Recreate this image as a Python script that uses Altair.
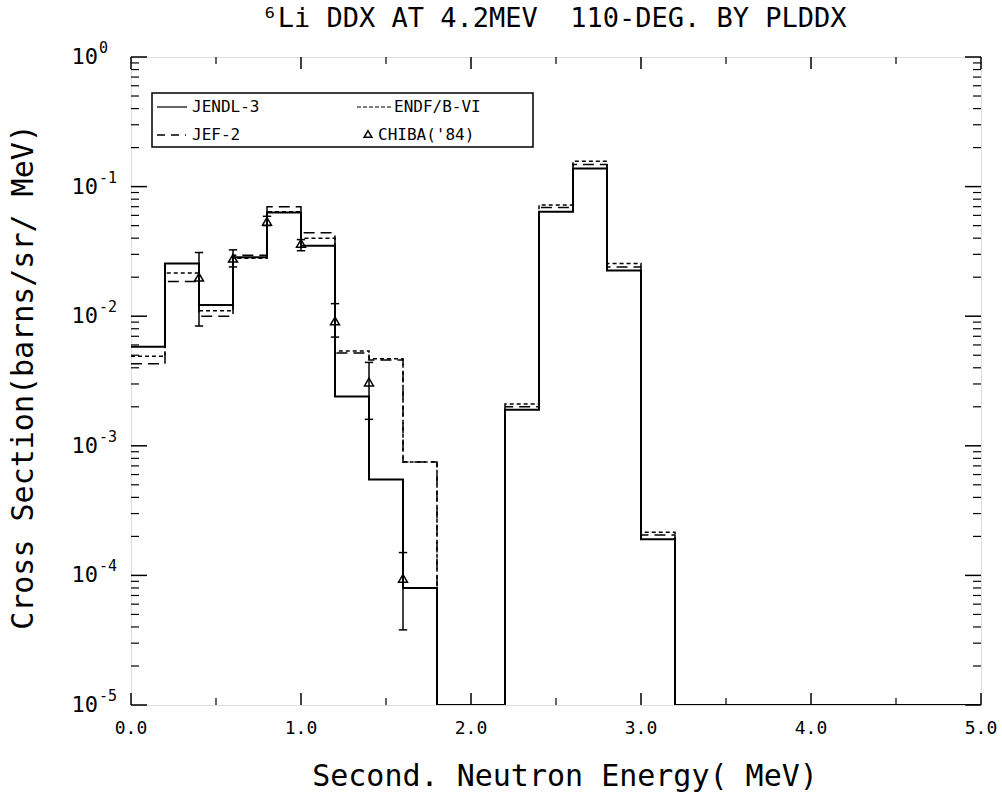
import altair as alt
import pandas as pd

# ---------------- data ----------------
edges = [0.0, 0.2, 0.4, 0.6, 0.8, 1.0, 1.2, 1.4, 1.6, 1.8, 2.0, 2.2, 2.4,
         2.6, 2.8, 3.0, 3.2, 3.4, 3.6, 3.8, 4.0, 4.2, 4.4, 4.6, 4.8, 5.0]

jendl3 = [5.8e-3, 2.55e-2, 1.22e-2, 2.85e-2, 6.3e-2, 3.5e-2, 2.4e-3, 5.5e-4,
          8.0e-5, 0, 0, 1.9e-3, 6.4e-2, 1.38e-1, 2.25e-2, 1.9e-4,
          0, 0, 0, 0, 0, 0, 0, 0, 0]
endfb6 = [4.9e-3, 2.15e-2, 1.1e-2, 2.8e-2, 6.4e-2, 4.0e-2, 5.4e-3, 4.7e-3,
          7.5e-4, 0, 0, 2.1e-3, 7.2e-2, 1.57e-1, 2.55e-2, 2.15e-4,
          0, 0, 0, 0, 0, 0, 0, 0, 0]
jef2 = [4.3e-3, 1.85e-2, 1.0e-2, 2.95e-2, 7.0e-2, 4.4e-2, 5.2e-3, 4.6e-3,
        7.5e-4, 0, 0, 2.0e-3, 6.9e-2, 1.48e-1, 2.4e-2, 2.05e-4,
        0, 0, 0, 0, 0, 0, 0, 0, 0]

chiba_e = [0.4, 0.6, 0.8, 1.0, 1.2, 1.4, 1.6]
chiba_v = [2.0e-2, 2.8e-2, 5.4e-2, 3.65e-2, 9.2e-3, 3.1e-3, 9.5e-5]
chiba_lo = [8.4e-3, 2.4e-2, 5.0e-2, 3.2e-2, 6.9e-3, 1.6e-3, 3.8e-5]
chiba_hi = [3.1e-2, 3.25e-2, 5.9e-2, 3.9e-2, 1.25e-2, 4.4e-3, 1.5e-4]

x_major = [0, 1, 2, 3, 4, 5]
x_labels = ["0.0", "1.0", "2.0", "3.0", "4.0", "5.0"]
x_minor = [0.5, 1.5, 2.5, 3.5, 4.5]
y_decades = [1e0, 1e-1, 1e-2, 1e-3, 1e-4, 1e-5]
y_exponents = ["0", "-1", "-2", "-3", "-4", "-5"]
y_minor = [m * d for d in [1e-1, 1e-2, 1e-3, 1e-4, 1e-5] for m in range(2, 10)]

title_text = "\u2076Li DDX AT 4.2MEV\u00a0\u00a0110-DEG. BY PLDDX"
x_title = "Second. Neutron Energy( MeV)"
y_title = "Cross Section(barns/sr/ MeV)"
legend_names = ["JENDL-3", "JEF-2", "ENDF/B-VI", "CHIBA('84)"]

# ---------------- layout ----------------
W, H = 850, 648
FLOOR = 1e-5
FONT = "DejaVu Sans Mono"

xs = alt.Scale(domain=[0, 5], nice=False, zero=False)
ys = alt.Scale(type="log", domain=[1e-5, 1], nice=False)


def step_frame(vals):
    ys_ = [max(v, FLOOR) for v in vals] + [max(vals[-1], FLOOR)]
    return pd.DataFrame({"x": edges, "y": ys_})


def line_layer(vals, dash, width):
    mk = dict(interpolate="step-after", color="black", strokeWidth=width, clip=True)
    if dash:
        mk["strokeDash"] = dash
    return alt.Chart(step_frame(vals)).mark_line(**mk).encode(
        x=alt.X("x:Q", scale=xs, axis=None),
        y=alt.Y("y:Q", scale=ys, axis=None),
    )


l_jendl = line_layer(jendl3, None, 2)
l_endf = line_layer(endfb6, [4, 3], 1.5)
l_jef = line_layer(jef2, [11, 6], 1.5)

chiba = pd.DataFrame({"e": chiba_e, "v": chiba_v, "lo": chiba_lo, "hi": chiba_hi})
err = alt.Chart(chiba).mark_rule(color="black", strokeWidth=1.5).encode(
    x=alt.X("e:Q", scale=xs, axis=None),
    y=alt.Y("lo:Q", scale=ys, axis=None), y2="hi:Q")
cap_lo = alt.Chart(chiba).mark_point(shape="M-1,0L1,0", size=70, color="black",
                                     strokeWidth=1.5, opacity=1).encode(
    x=alt.X("e:Q", scale=xs, axis=None), y=alt.Y("lo:Q", scale=ys, axis=None))
cap_hi = alt.Chart(chiba).mark_point(shape="M-1,0L1,0", size=70, color="black",
                                     strokeWidth=1.5, opacity=1).encode(
    x=alt.X("e:Q", scale=xs, axis=None), y=alt.Y("hi:Q", scale=ys, axis=None))
tri = alt.Chart(chiba).mark_point(shape="triangle-up", size=80, color="black",
                                  filled=False, strokeWidth=1.5, opacity=1).encode(
    x=alt.X("e:Q", scale=xs, axis=None), y=alt.Y("v:Q", scale=ys, axis=None))

# ---------------- inward ticks ----------------
ydec = pd.DataFrame({"v": y_decades, "ex": y_exponents})
ymin = pd.DataFrame({"v": y_minor})
xmaj = pd.DataFrame({"v": x_major, "lab": x_labels})
xmin = pd.DataFrame({"v": x_minor})


def yticks(df, x0, x1, w):
    return alt.Chart(df).mark_rule(color="black", strokeWidth=w).encode(
        y=alt.Y("v:Q", scale=ys, axis=None), x=alt.value(x0), x2=alt.value(x1))


def xticks(df, y0, y1, w):
    return alt.Chart(df).mark_rule(color="black", strokeWidth=w).encode(
        x=alt.X("v:Q", scale=xs, axis=None), y=alt.value(y0), y2=alt.value(y1))


ticks = [
    yticks(ydec, 0, 16, 1.5), yticks(ymin, 0, 8, 1.2),
    yticks(ydec, W - 16, W, 1.5), yticks(ymin, W - 8, W, 1.2),
    xticks(xmaj, H, H - 12, 1.5), xticks(xmin, H, H - 7, 1.2),
    xticks(xmaj, 0, 12, 1.5), xticks(xmin, 0, 7, 1.2),
]

# ---------------- tick labels ----------------
xlab = alt.Chart(xmaj).mark_text(font=FONT, fontSize=18, color="black", align="center",
                                 baseline="middle").encode(
    x=alt.X("v:Q", scale=xs, axis=None), y=alt.value(H + 24), text="lab:N")
ylab10 = alt.Chart(ydec).mark_text(font=FONT, fontSize=22, color="black", align="right",
                                   baseline="middle").encode(
    y=alt.Y("v:Q", scale=ys, axis=None), x=alt.value(-33), text=alt.value("10"))
ylabex = alt.Chart(ydec).mark_text(font=FONT, fontSize=15, color="black", align="left",
                                   baseline="middle", dy=-9).encode(
    y=alt.Y("v:Q", scale=ys, axis=None), x=alt.value(-32), text="ex:N")

# ---------------- titles ----------------
one = pd.DataFrame({"a": [0]})
t_title = alt.Chart(one).mark_text(font=FONT, fontSize=27, color="black",
                                   align="center", baseline="middle").encode(
    x=alt.value(W / 2 - 2), y=alt.value(-38), text=alt.value(title_text))
t_x = alt.Chart(one).mark_text(font=FONT, fontSize=30, color="black",
                               align="center", baseline="middle").encode(
    x=alt.value(W / 2 + 9), y=alt.value(H + 72), text=alt.value(x_title))
t_y = alt.Chart(one).mark_text(font=FONT, fontSize=30, color="black", angle=270,
                               align="center", baseline="middle").encode(
    x=alt.value(-107), y=alt.value(H / 2 - 4), text=alt.value(y_title))

# ---------------- legend ----------------
LX0, LX1, LY0, LY1 = 21, 402, 36, 90
R1, R2 = 50, 78
leg_box = alt.Chart(one).mark_rect(fill="white", stroke="black", strokeWidth=1.5).encode(
    x=alt.value(LX0), x2=alt.value(LX1), y=alt.value(LY0), y2=alt.value(LY1))


def leg_line(x0, x1, yv, dash, w):
    mk = dict(color="black", strokeWidth=w)
    if dash:
        mk["strokeDash"] = dash
    return alt.Chart(one).mark_rule(**mk).encode(
        x=alt.value(x0), x2=alt.value(x1), y=alt.value(yv))


def leg_text(x0, yv, txt):
    return alt.Chart(one).mark_text(font=FONT, fontSize=16, color="black", align="left",
                                    baseline="middle").encode(
        x=alt.value(x0), y=alt.value(yv), text=alt.value(txt))


legend = [
    leg_box,
    leg_line(26, 56, R1, None, 1.2), leg_text(61, R1, legend_names[0]),
    leg_line(26, 55, R2, [8, 6], 1.5), leg_text(61, R2, legend_names[1]),
    leg_line(226, 262, R1, [4, 2], 1.2), leg_text(263, R1, legend_names[2]),
    alt.Chart(one).mark_point(shape="triangle-up", size=60, color="black", filled=False,
                              strokeWidth=1.5, opacity=1).encode(
        x=alt.value(237), y=alt.value(R2 - 1)),
    leg_text(247, R2, legend_names[3]),
]

chart = alt.layer(
    l_jendl, l_endf, l_jef, err, cap_lo, cap_hi, tri,
    *ticks, xlab, ylab10, ylabex, t_title, t_x, t_y, *legend,
).properties(
    width=W, height=H,
    autosize=alt.AutoSizeParams(type="none"),
    padding={"left": 131, "top": 57, "right": 21, "bottom": 91},
).configure_view(stroke="black", strokeWidth=2).configure(background="white")

chart.save("out.html", embed_options={"renderer": "svg", "actions": False})
